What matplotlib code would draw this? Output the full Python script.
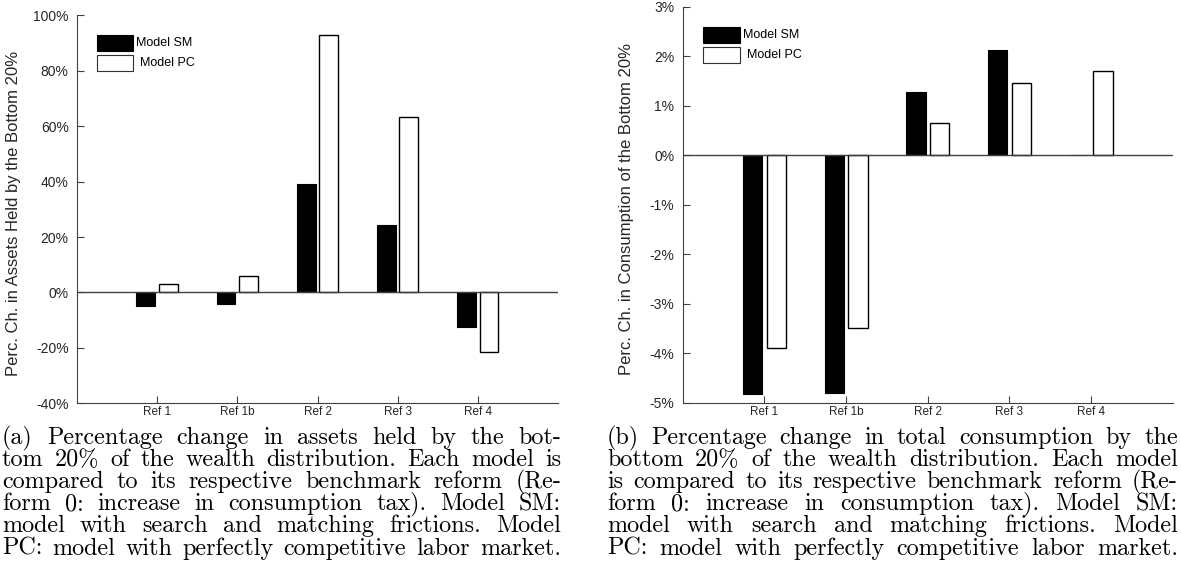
import matplotlib
matplotlib.use("Agg")
import matplotlib.pyplot as plt
from matplotlib.patches import Rectangle
from matplotlib.ticker import FuncFormatter
import numpy as np

# ---------------------------
# Data
# ---------------------------
refs = ["Ref 1", "Ref 1b", "Ref 2", "Ref 3", "Ref 4"]

assets_sm = [-4.8, -4.0, 39.2, 24.2, -12.3]
assets_pc = [3.0, 5.9, 93.0, 63.4, -21.4]

cons_sm = [-4.82, -4.80, 1.28, 2.12, 0.013]
cons_pc = [-3.88, -3.48, 0.65, 1.45, 1.71]

caption_a = [
    "(a) Percentage change in assets held by the bot-",
    "tom 20% of the wealth distribution. Each model is",
    "compared to its respective benchmark reform (Re-",
    "form 0: increase in consumption tax). Model SM:",
    "model with search and matching frictions. Model",
    "PC: model with perfectly competitive labor market.",
]
caption_b = [
    "(b) Percentage change in total consumption by the",
    "bottom 20% of the wealth distribution. Each model",
    "is compared to its respective benchmark reform (Re-",
    "form 0: increase in consumption tax). Model SM:",
    "model with search and matching frictions. Model",
    "PC: model with perfectly competitive labor market.",
]

W, H = 1181, 573
plt.rcParams["font.family"] = ["Liberation Sans", "DejaVu Sans"]
AX_COL = "#404040"

fig = plt.figure(figsize=(W / 100, H / 100), dpi=100)


def px_axes(x0, x1, ytop, ybot):
    return fig.add_axes([x0 / W, 1 - ybot / H, (x1 - x0) / W, (ybot - ytop) / H])


def draw_panel(ax, sm, pc, ylim, yticks, ylabel, offs, bw, leg_y):
    x = np.arange(1, len(refs) + 1)
    ax.bar(x + offs[0], sm, width=bw, color="black", edgecolor="black", linewidth=0.8, zorder=3)
    ax.bar(x + offs[1], pc, width=bw, color="white", edgecolor="black", linewidth=1.0, zorder=3)
    ax.axhline(0, color=AX_COL, linewidth=1.0, zorder=4)
    ax.set_xlim(0, 6)
    ax.set_ylim(*ylim)
    ax.set_xticks(x)
    ax.set_xticklabels(refs, fontsize=8.5, color="#262626")
    ax.set_yticks(yticks)
    ax.yaxis.set_major_formatter(FuncFormatter(lambda v, p: f"{v:.0f}%"))
    ax.tick_params(axis="y", direction="in", length=5, width=0.8, color=AX_COL,
                   labelsize=10, labelcolor="#262626", pad=6)
    ax.tick_params(axis="x", direction="in", length=5, width=0.8, color=AX_COL, pad=2)
    for s in ["top", "right"]:
        ax.spines[s].set_visible(False)
    for s in ["left", "bottom"]:
        ax.spines[s].set_color(AX_COL)
        ax.spines[s].set_linewidth(0.8)
    ax.set_ylabel(ylabel, fontsize=12, color="#262626")

    # legend drawn by hand (MATLAB style, no frame)
    h = 0.04
    ax.add_patch(Rectangle((0.042, leg_y[0]), 0.074, h, transform=ax.transAxes,
                           facecolor="black", edgecolor="black", lw=0.8, clip_on=False))
    ax.add_patch(Rectangle((0.042, leg_y[1]), 0.074, h, transform=ax.transAxes,
                           facecolor="white", edgecolor="#303030", lw=0.8, clip_on=False))
    ax.text(0.123, leg_y[0] + h / 2, "Model SM", transform=ax.transAxes,
            fontsize=9, va="center", ha="left")
    ax.text(0.132, leg_y[1] + h / 2, "Model PC", transform=ax.transAxes,
            fontsize=9, va="center", ha="left")


axA = px_axes(77, 558, 15.3, 403.3)
draw_panel(axA, assets_sm, assets_pc, (-40, 100), np.arange(-40, 101, 20),
           "Perc. Ch. in Assets Held by the Bottom 20%", (-0.142, 0.139), 0.235,
           ((403.3 - 50.7) / 388, (403.3 - 70.7) / 388))
axA.yaxis.set_label_coords(-0.116, 0.49)

axB = px_axes(682.7, 1172.7, 6.7, 403)
draw_panel(axB, cons_sm, cons_pc, (-5, 3), np.arange(-5, 4, 1),
           "Perc. Ch. in Consumption of the Bottom 20%", (-0.143, 0.147), 0.237,
           ((403 - 42.7) / 396.3, (403 - 63.3) / 396.3))
axB.yaxis.set_label_coords(-0.099, 0.49)

# ---------------------------
# Justified captions
# ---------------------------
renderer = fig.canvas.get_renderer()
line_y = [438, 460, 482, 504, 526, 548.5]


def natural_width(s, fs):
    t = fig.text(0, 0, s, fontsize=fs, family="cmr10")
    w = t.get_window_extent(renderer).width
    t.remove()
    return w


# size the caption font so the widest line just fits the column
widest = max(natural_width(s, 10) for s in caption_a + caption_b)
CAP_FS = 10 * 559 / widest * 0.995


def justify(lines, x0, x1):
    for line, yc in zip(lines, line_y):
        words = line.split(" ")
        objs = []
        widths = []
        for w in words:
            t = fig.text(0, 1 - yc / H, w, fontsize=CAP_FS, family="cmr10",
                         va="center", ha="left")
            widths.append(t.get_window_extent(renderer).width)
            objs.append(t)
        gap = (x1 - x0 - sum(widths)) / max(len(words) - 1, 1)
        pos = x0
        for t, wd in zip(objs, widths):
            t.set_x(pos / W)
            pos += wd + gap


justify(caption_a, 2, 561)
justify(caption_b, 607, 1178)

fig.savefig("out.png", dpi=100)
